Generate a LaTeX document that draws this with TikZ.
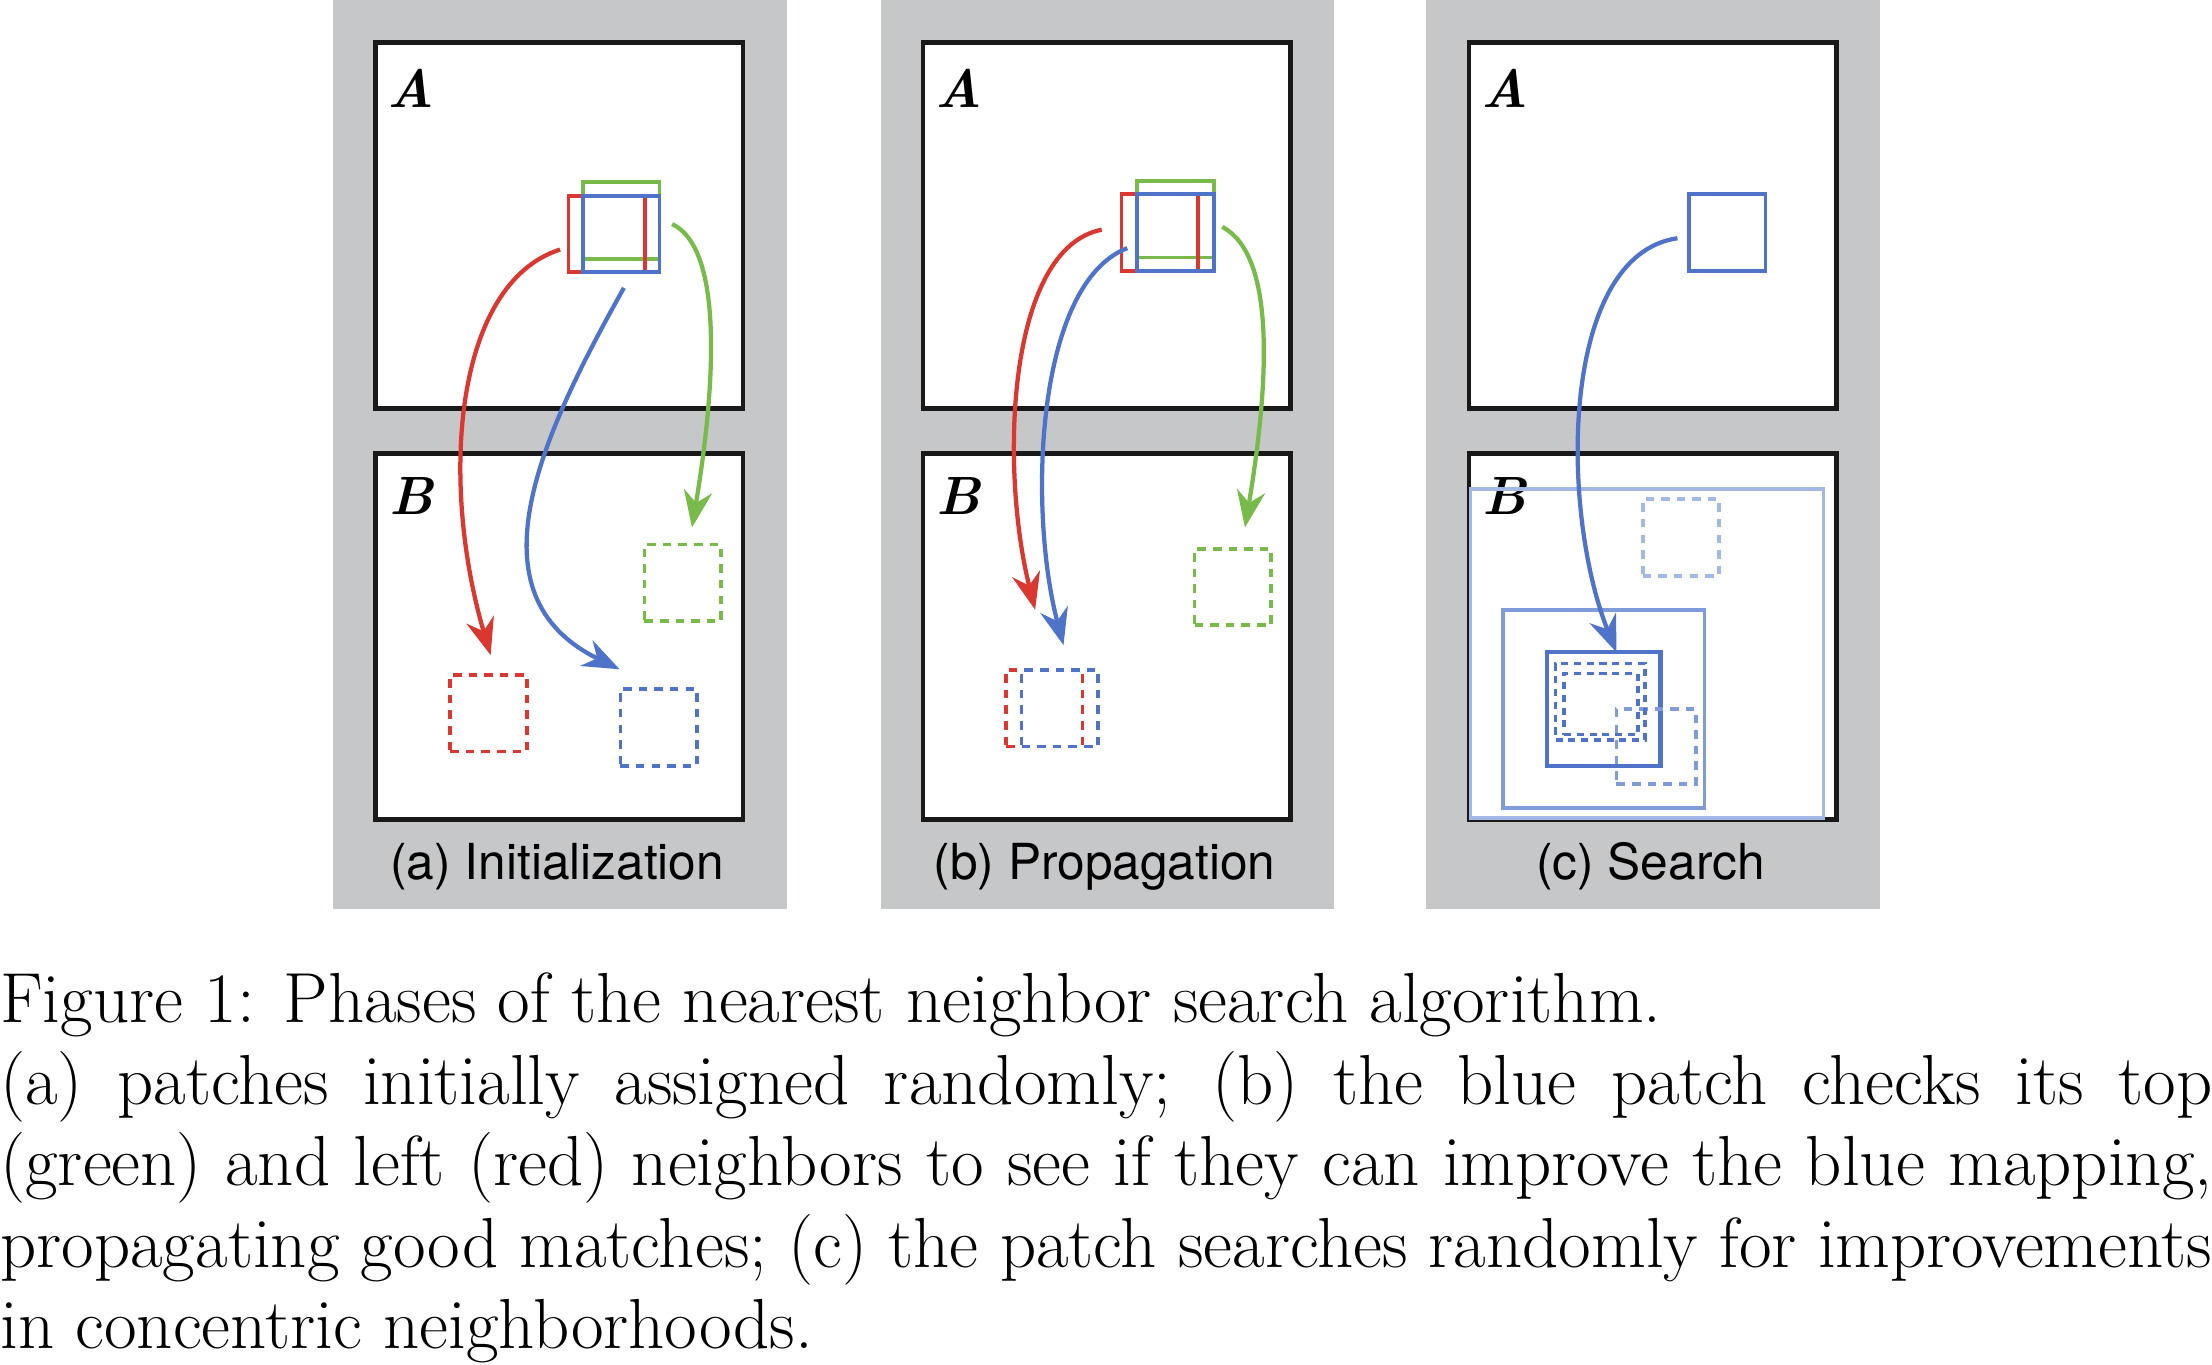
\documentclass[tikz,border=0pt]{standalone}
\usepackage{fontspec}
\newfontfamily\heros{TeX Gyre Heros}
\usetikzlibrary{arrows.meta}
\definecolor{pgray}{HTML}{C6C7C9}
\definecolor{pred}{HTML}{D9372F}
\definecolor{pgreen}{HTML}{78BB4A}
\definecolor{pblue}{HTML}{4F73C9}
\definecolor{lblue}{HTML}{A3B8E4}
\definecolor{mblue}{HTML}{7F9BDA}
\tikzset{
 frame/.style={draw=black!90,line width=3.2,fill=white,minimum width=259,minimum height=258,inner sep=0},
 patch/.style={draw=#1,line width=2.6,minimum width=54,minimum height=54,inner sep=0},
 dpatch/.style={draw=#1,line width=2.6,dashed,dash pattern=on 6 off 5,minimum width=54,minimum height=54,inner sep=0},
 arr/.style={draw=#1,line width=3,-{Stealth[length=26,width=20]}},
 lab/.style={font=\fontsize{38}{38}\selectfont\bfseries\itshape},
 captext/.style={font=\heros\fontsize{35}{35}\selectfont},
}
\begin{document}
\begin{tikzpicture}[x=1pt,y=-1pt]
\useasboundingbox (0,0) rectangle (1560,962);
\foreach \o/\t [count=\i] in {0/(a) Initialization,386/(b) Propagation,771/(c) Search}{
 \fill[pgray] (235+\o,0) rectangle (555+\o,641);
 \node[frame] (A\i) at (394.5+\o,159) {};
 \node[frame] (B\i) at (394.5+\o,449) {};
 \node[lab] (la\i) at (290+\o,62) {A};
 \node[lab] (lb\i) at (290+\o,350) {B};
 \node[captext] (c\i) at (393+\o,611) {\t};
}
% (a)
\node[patch=pgreen] (ga) at (438,155.5) {};
\node[patch=pred] (ra) at (428,165) {};
\node[patch=pblue] (ba) at (438,165) {};
\node[dpatch=pred] (rda) at (344.5,503) {};
\node[dpatch=pblue] (bda) at (464.5,513) {};
\node[dpatch=pgreen] (gda) at (481.5,411) {};
\coordinate (ra1) at (395,176);
\coordinate (ba1) at (440,203);
\coordinate (ga1) at (474,158);
\draw[arr=pred] (ra1) .. controls (320,200) and (310,340) .. (346,462);
\draw[arr=pblue] (ba1) .. controls (380,310) and (330,420) .. (437,472);
\draw[arr=pgreen] (ga1) .. controls (510,175) and (505,270) .. (488,372);
% (b)
\node[patch=pgreen] (gb) at (829,154.5) {};
\node[patch=pred] (rb) at (818,164) {};
\node[patch=pblue] (bb) at (829,164) {};
\node[dpatch=pgreen] (gdb) at (869.5,414) {};
\node[dpatch=pred] (rdb) at (736.5,499.5) {};
\node[dpatch=pblue] (bdb) at (747.5,499.5) {};
\coordinate (rb1) at (777,162);
\coordinate (bb1) at (795,175);
\coordinate (gb1) at (862,160);
\draw[arr=pred] (rb1) .. controls (710,175) and (705,330) .. (730,430);
\draw[arr=pblue] (bb1) .. controls (730,200) and (725,360) .. (750,455);
\draw[arr=pgreen] (gb1) .. controls (900,180) and (895,270) .. (878,372);
% (c)
\node[patch=pblue] (bc) at (1218,164) {};
\node[draw=lblue,line width=2.6,minimum width=249,minimum height=232,inner sep=0] (big) at (1161.5,461) {};
\node[draw=mblue,line width=2.6,minimum width=142,minimum height=140,inner sep=0] (mid) at (1131,500) {};
\node[draw=pblue,line width=3,minimum width=80,minimum height=80,inner sep=0] (sm) at (1131,500) {};
\node[dpatch=lblue] (d1) at (1185.5,379) {};
\node[dpatch=mblue,minimum width=56,minimum height=53] (d2) at (1168,526.5) {};
\node[dpatch=pblue,minimum width=63,minimum height=54,dash pattern=on 5 off 4] (d3) at (1128.5,495) {};
\node[dpatch=pblue,minimum width=52,minimum height=43,dash pattern=on 5 off 4] (d4) at (1129,496.5) {};
\coordinate (bc1) at (1183,168);
\draw[arr=pblue] (bc1) .. controls (1100,180) and (1100,360) .. (1140,460);
% caption
\node[anchor=north west,inner sep=0,font=\fontsize{50}{57.5}\selectfont,align=left] (txt) at (0,686) {%
Figure 1: Phases of the nearest neighbor search algorithm.\\
\makebox[1560pt][s]{(a) patches initially assigned randomly; (b) the blue patch checks its top}\\
\makebox[1560pt][s]{(green) and left (red) neighbors to see if they can improve the blue mapping,}\\
\makebox[1560pt][s]{propagating good matches; (c) the patch searches randomly for improvements}\\
in concentric neighborhoods.};
\end{tikzpicture}
\end{document}
